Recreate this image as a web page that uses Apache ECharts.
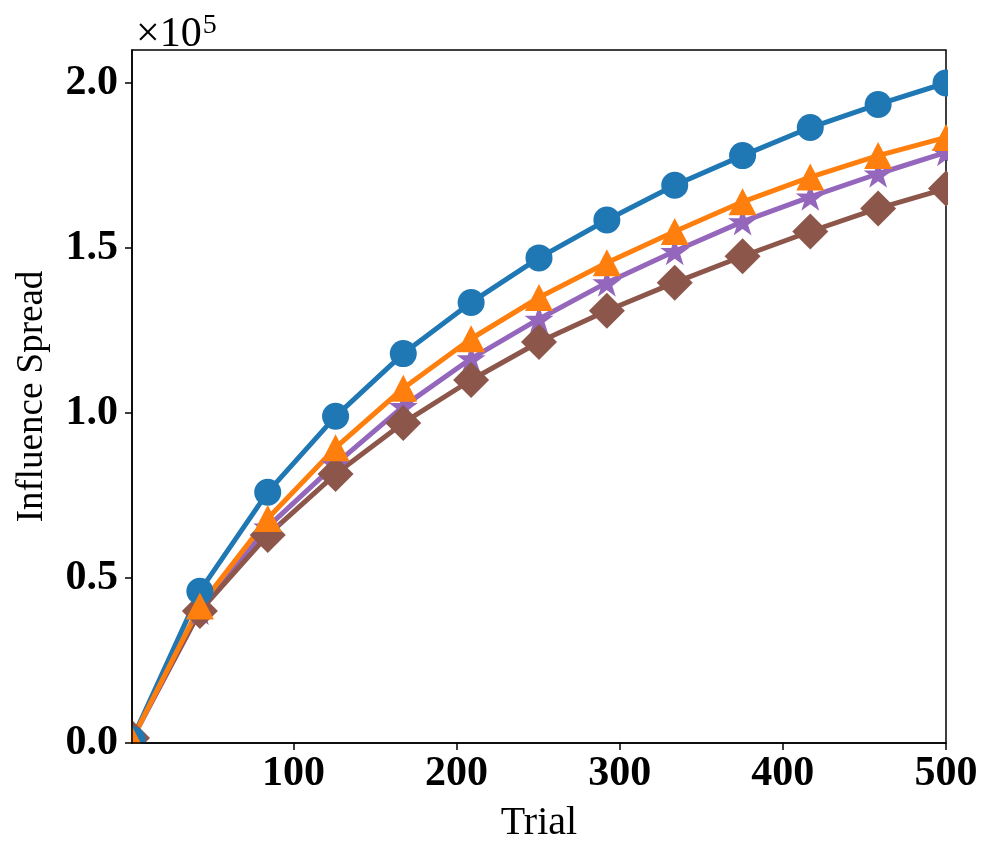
<!DOCTYPE html>
<html>
<head>
<meta charset="utf-8">
<script src="https://cdn.jsdelivr.net/npm/echarts@6/dist/echarts.min.js"></script>
<style>
  html, body { margin: 0; padding: 0; background: #fff; }
  #chart { width: 997px; height: 860px; }
</style>
</head>
<body>
<div id="chart"></div>
<script>
// trial positions (13 evenly spaced points from 1 to 500)
const trials = [1, 42.6, 84.2, 125.8, 167.3, 208.9, 250.5, 292.1, 333.7, 375.3, 416.8, 458.4, 500];

// influence spread, in units of 1e5
const blueVals = [0.01, 0.46, 0.76, 0.99, 1.18, 1.335, 1.47, 1.585, 1.69, 1.78, 1.865, 1.935, 2.0];
const orangeVals = [0.01, 0.415, 0.68, 0.895, 1.075, 1.225, 1.35, 1.455, 1.55, 1.64, 1.715, 1.78, 1.835];
const purpleVals = [0.01, 0.40, 0.655, 0.845, 1.02, 1.165, 1.285, 1.395, 1.49, 1.58, 1.655, 1.725, 1.79];
const brownVals = [0.015, 0.40, 0.63, 0.815, 0.97, 1.10, 1.215, 1.31, 1.395, 1.475, 1.55, 1.62, 1.68];

const xTicks = [100, 200, 300, 400, 500];
const yTicks = [0, 0.5, 1.0, 1.5, 2.0];

const STAR = 'path://M0,-100L-22.45,-30.9L-95.1,-30.9L-36.3,11.8L-58.8,80.9L0,38.2L58.8,80.9L36.3,11.8L95.1,-30.9L22.45,-30.9Z';

const chart = echarts.init(document.getElementById('chart'));

function pairs(vals) {
  return trials.map((t, i) => [t, vals[i]]);
}

function lineSeries(name, vals, color, symbol, size) {
  return {
    name: name,
    type: 'line',
    data: pairs(vals),
    symbol: symbol,
    symbolSize: size,
    showSymbol: true,
    lineStyle: { color: color, width: 5 },
    itemStyle: { color: color, opacity: 1 },
    emphasis: { disabled: true },
    animation: false
  };
}

const tickFont = { fontFamily: 'Liberation Serif', fontWeight: 'bold', fontSize: 42, color: '#000' };

const option = {
  backgroundColor: '#fff',
  animation: false,
  grid: {
    left: 132, right: 51, top: 50, bottom: 117,
    show: true, borderColor: '#000', borderWidth: 1.5, backgroundColor: 'transparent'
  },
  xAxis: {
    type: 'value',
    min: 1,
    max: 500,
    zlevel: 1,
    z: 4,
    name: 'Trial',
    nameLocation: 'middle',
    nameGap: 60,
    nameTextStyle: { fontFamily: 'Liberation Serif', fontSize: 40, color: '#000' },
    axisLine: { show: true, onZero: false, lineStyle: { color: '#000', width: 1.5 } },
    axisTick: { show: true, length: 7, lineStyle: { color: '#000', width: 1.5 }, customValues: xTicks },
    axisLabel: Object.assign({ margin: 10, customValues: xTicks }, tickFont),
    splitLine: { show: false }
  },
  yAxis: {
    type: 'value',
    min: 0,
    max: 2.1,
    zlevel: 1,
    z: 4,
    name: 'Influence Spread',
    nameLocation: 'middle',
    nameGap: 81,
    nameTextStyle: { fontFamily: 'Liberation Serif', fontSize: 37, color: '#000' },
    axisLine: { show: true, onZero: false, lineStyle: { color: '#000', width: 1.5 } },
    axisTick: { show: true, length: 7, lineStyle: { color: '#000', width: 1.5 }, customValues: yTicks },
    axisLabel: Object.assign({ margin: 14, customValues: yTicks, formatter: v => v.toFixed(1) }, tickFont),
    splitLine: { show: false }
  },
  graphic: [
    // hide the marker parts that fall outside the plot frame
    { type: 'rect', zlevel: 1, z: 1, shape: { x: 948, y: 0, width: 49, height: 756 }, style: { fill: '#fff' } },
    { type: 'rect', zlevel: 1, z: 1, shape: { x: 100, y: 744, width: 860, height: 12 }, style: { fill: '#fff' } },
    { type: 'rect', zlevel: 1, z: 1, shape: { x: 100, y: 690, width: 31, height: 60 }, style: { fill: '#fff' } },
    {
      type: 'text', zlevel: 1, z: 5, left: 136, top: 12,
      style: {
        text: '{a|×10}{b|5}',
        rich: {
          a: { fontFamily: 'Liberation Serif', fontSize: 42, color: '#000', verticalAlign: 'bottom' },
          b: { fontFamily: 'Liberation Serif', fontSize: 28, color: '#000', verticalAlign: 'top', padding: [0, 0, 16, 1] }
        }
      }
    }
  ],
  series: [
    lineSeries('purple', purpleVals, '#9467bd', STAR, [29, 28]),
    lineSeries('brown', brownVals, '#8c564b', 'diamond', [36, 36]),
    lineSeries('blue', blueVals, '#1f77b4', 'circle', 27),
    lineSeries('orange', orangeVals, '#ff7f0e', 'triangle', [28, 27])
  ]
};

chart.setOption(option);
</script>
</body>
</html>
